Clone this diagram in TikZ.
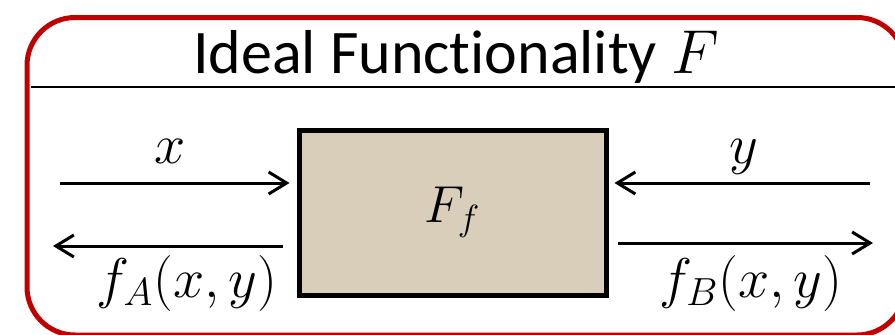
\RequirePackage{fix-cm}
\documentclass[tikz,border=0pt]{standalone}
\usepackage{fontspec}
\setmainfont{Carlito}[Ligatures=CommonOff]
\usetikzlibrary{arrows.meta,calc,positioning}
\definecolor{framered}{RGB}{192,0,0}
\definecolor{linen}{RGB}{216,206,186}
\tikzset{sig/.style={-{Straight Barb[length=9pt,width=11pt]}, line width=1.5pt},
  lbl/.style={font=\fontsize{28}{32}\selectfont, inner sep=0pt, anchor=base},
  func/.style={draw, line width=2.5pt, fill=linen, minimum width=153.5pt, minimum height=82.5pt, font=\fontsize{26}{30}\selectfont}}

\begin{document}
\begin{tikzpicture}[x=0.5pt,y=-0.5pt]
  \useasboundingbox (0,0) rectangle (895,334);
  % frame and title bar
  \draw[framered, line width=2.5pt, rounded corners=24pt] (27,17.5) rectangle (905,335);
  \draw[line width=1.2pt] (31,87) -- (905,87);
  \node[font=\fontsize{31}{36}\selectfont, anchor=base] (title) at (456,73) {Ideal Functionality $F$};
  % the functionality
  \node[func] (ff) at (452.5,212.5) {$F_f$};
  % inputs
  \coordinate (xin) at (60,183);
  \coordinate (yin) at (870,183);
  \draw[sig, shorten >=3.5pt] (xin) -- (xin -| ff.west);
  \draw[sig, shorten >=3pt] (yin) -- (yin -| ff.east);
  \node[lbl] (xl) at (170,163) {$x$};
  \node[lbl] (yl) at (744,163) {$y$};
  % outputs
  \coordinate (aout) at (53,246);
  \coordinate (bout) at (873,243);
  \draw[sig, shorten <=7pt] (aout -| ff.west) -- (aout);
  \draw[sig, shorten <=4.5pt] (bout -| ff.east) -- (bout);
  \node[lbl] (fa) at (187,297) {$f_A(x,y)$};
  \node[lbl] (fb) at (751,297) {$f_B(x,y)$};
\end{tikzpicture}
\end{document}
